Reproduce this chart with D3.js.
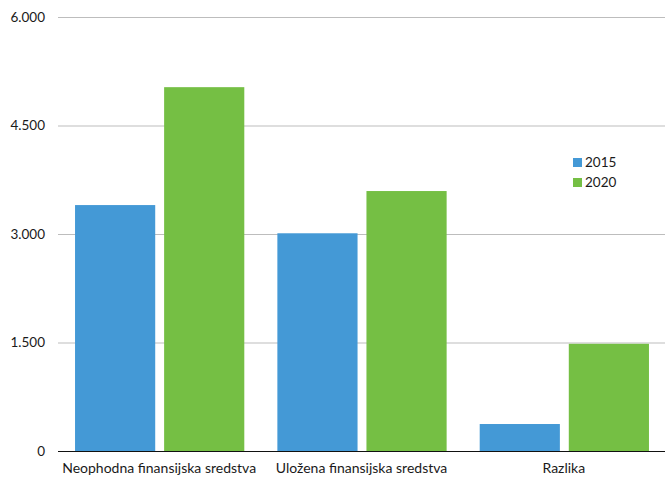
<!DOCTYPE html>
<html><head><meta charset="utf-8">
<script src="https://cdn.jsdelivr.net/npm/d3@7"></script>
<style>body{margin:0;background:#fff}svg{display:block}text{font-family:Lato,"Open Sans",sans-serif;fill:#1a1a1a}</style>
</head><body><svg id="c" width="672" height="479"></svg>
<script>
const categories = ["Neophodna finansijska sredstva", "Uložena finansijska sredstva", "Razlika"];
const seriesNames = ["2015", "2020"];
const values2015 = [3400, 3010, 373];
const values2020 = [5030, 3594, 1482];
const yTicks = [0, 1500, 3000, 4500, 6000];
const colors = ["#4499d6", "#75bf44"];

(function () {
const svg = d3.select("#c");
const mL = 58, mR = 665, mT = 17, mB = 451;
const y = d3.scaleLinear().domain([0, 6000]).range([mB, mT]);
const x0 = d3.scaleBand().domain(categories).range([mL, mR]).padding(0);
const x1 = d3.scaleBand().domain(seriesNames).range([1, x0.bandwidth()]).paddingInner(0.1).paddingOuter(0.18);
const fmt = v => d3.format(",")(v).replace(/,/g, ".");

svg.append("g").selectAll("line").data(yTicks.filter(d => d > 0)).join("line")
  .attr("x1", mL).attr("x2", mR).attr("y1", d => y(d) + 0.5).attr("y2", d => y(d) + 0.5)
  .attr("stroke", "#bdbdbd").attr("stroke-width", 1);

svg.append("g").selectAll("text").data(yTicks).join("text")
  .attr("x", 45).attr("y", d => y(d)).attr("dy", "0.35em").attr("text-anchor", "end")
  .attr("font-size", 13.5).text(fmt);

const data = seriesNames.map((s, i) => ({ s, vals: i === 0 ? values2015 : values2020, c: colors[i] }));
const g = svg.append("g");
data.forEach(ser => {
  g.append("g").selectAll("rect").data(categories).join("rect")
    .attr("x", c => x0(c) + x1(ser.s))
    .attr("width", x1.bandwidth())
    .attr("y", (c, i) => y(ser.vals[i]))
    .attr("height", (c, i) => mB - y(ser.vals[i]))
    .attr("fill", ser.c);
});

svg.append("line").attr("x1", mL).attr("x2", mR).attr("y1", mB + 0.5).attr("y2", mB + 0.5)
  .attr("stroke", "#111").attr("stroke-width", 1.2);

svg.append("g").selectAll("text").data(categories).join("text")
  .attr("x", c => x0(c) + x0.bandwidth() / 2).attr("y", 473).attr("text-anchor", "middle")
  .attr("font-size", 14).text(c => c);

const lg = svg.append("g").attr("transform", "translate(573,158)");
seriesNames.forEach((s, i) => {
  lg.append("rect").attr("x", 0).attr("y", i * 20).attr("width", 9).attr("height", 9).attr("fill", colors[i]);
  lg.append("text").attr("x", 12).attr("y", i * 20 + 9).attr("font-size", 13.5).text(s);
});
})();
</script></body></html>
